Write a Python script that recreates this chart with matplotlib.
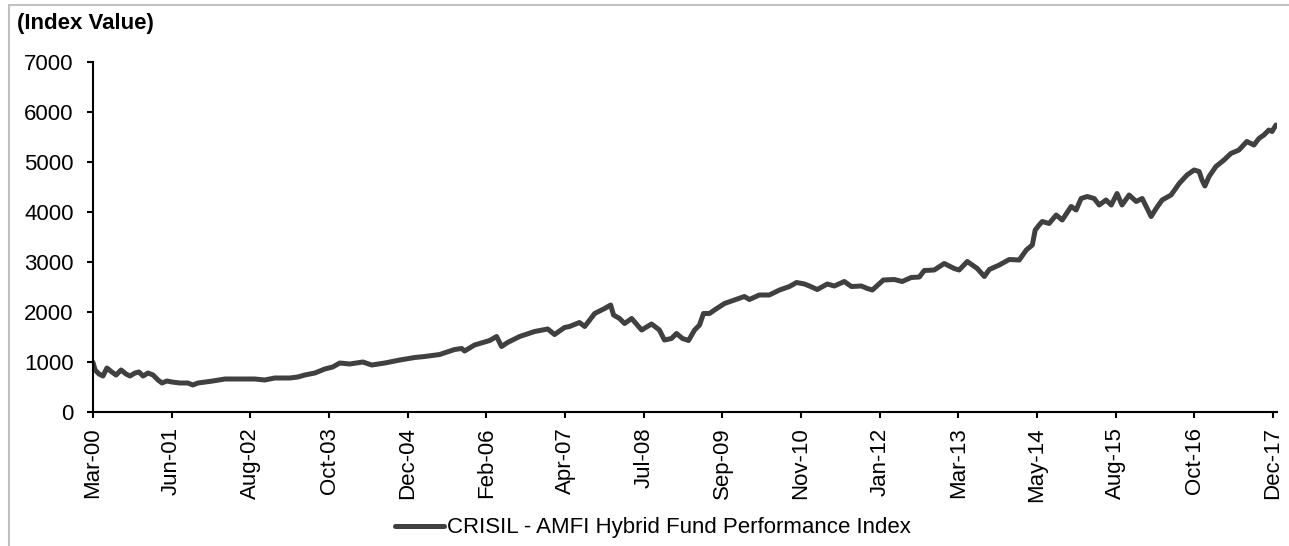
import matplotlib
matplotlib.use("Agg")
import matplotlib.pyplot as plt
from matplotlib.patches import Rectangle

# Observation number (trading-day index) and index value
obs = [0, 8, 23, 38, 53, 72, 88, 107, 126, 141, 160, 175, 191, 210, 229, 248, 263, 282, 301, 331,
       362, 381, 400, 427, 457, 503, 560, 617, 655, 693, 751, 781, 808, 846, 884, 914, 941, 979, 1029, 1063,
       1113, 1170, 1227, 1265, 1322, 1379, 1406, 1417, 1455, 1513, 1539, 1558, 1581, 1627, 1684, 1734, 1760, 1798, 1817, 1855,
       1875, 1913, 1951, 1974, 1985, 2008, 2027, 2054, 2092, 2130, 2160, 2179, 2206, 2225, 2248, 2271, 2294, 2313, 2328, 2351,
       2370, 2408, 2446, 2484, 2503, 2541, 2579, 2618, 2656, 2683, 2713, 2732, 2762, 2800, 2827, 2865, 2892, 2930, 2953, 2972,
       3014, 3056, 3086, 3120, 3151, 3170, 3208, 3246, 3284, 3303, 3334, 3372, 3399, 3418, 3456, 3494, 3532, 3559, 3582, 3593,
       3608, 3620, 3646, 3673, 3696, 3730, 3749, 3768, 3791, 3818, 3837, 3863, 3883, 3905, 3924, 3951, 3978, 4001, 4020, 4035,
       4054, 4077, 4111, 4142, 4172, 4199, 4218, 4229, 4240, 4256, 4282, 4313, 4339, 4370, 4400, 4427, 4446, 4465, 4484, 4496,
       4511]
index_value = [990, 840, 760, 720, 880, 800, 740, 840, 760, 720, 780, 800, 720, 780, 740, 640, 580, 620, 600, 580,
               580, 540, 580, 600, 620, 660, 660, 660, 640, 680, 680, 700, 740, 780, 860, 900, 980, 960, 1000, 940,
               980, 1040, 1090, 1110, 1150, 1250, 1270, 1220, 1340, 1430, 1510, 1310, 1390, 1510, 1610, 1660, 1550, 1690, 1710, 1790,
               1710, 1970, 2070, 2140, 1940, 1870, 1770, 1870, 1640, 1760, 1640, 1440, 1470, 1570, 1470, 1430, 1640, 1740, 1970, 1970,
               2040, 2170, 2240, 2310, 2250, 2340, 2340, 2440, 2510, 2590, 2560, 2520, 2450, 2560, 2520, 2610, 2510, 2520, 2470, 2440,
               2640, 2650, 2610, 2690, 2700, 2830, 2840, 2970, 2870, 2840, 3010, 2870, 2710, 2850, 2940, 3050, 3040, 3240, 3340, 3640,
               3740, 3810, 3770, 3940, 3840, 4110, 4040, 4270, 4310, 4270, 4140, 4240, 4140, 4370, 4140, 4340, 4210, 4270, 4070, 3910,
               4070, 4240, 4340, 4570, 4740, 4840, 4810, 4640, 4520, 4710, 4910, 5040, 5170, 5240, 5410, 5340, 5470, 5540, 5640, 5610,
               5740]

tick_obs = [0, 300, 600, 900, 1200, 1500, 1800, 2100, 2400, 2700, 3000, 3300, 3600, 3900, 4200, 4500]
tick_labels = ["Mar-00", "Jun-01", "Aug-02", "Oct-03", "Dec-04", "Feb-06", "Apr-07", "Jul-08",
               "Sep-09", "Nov-10", "Jan-12", "Mar-13", "May-14", "Aug-15", "Oct-16", "Dec-17"]
y_ticks = [0, 1000, 2000, 3000, 4000, 5000, 6000, 7000]
series_name = "CRISIL - AMFI Hybrid Fund Performance Index"

plt.rcParams["font.family"] = ["Liberation Sans", "DejaVu Sans"]
FS = 16

fig = plt.figure(figsize=(12.89, 5.46), dpi=100)
ax = fig.add_axes([93/1289, 1-412/546, (1277-93)/1289, (412-62)/546])

line, = ax.plot(obs, index_value, color="#404040", lw=3.6, solid_joinstyle="round",
                solid_capstyle="round", label=series_name)

ax.set_xlim(0, 4515)
ax.set_ylim(0, 7000)
ax.set_yticks(y_ticks)
ax.set_yticklabels([str(v) for v in y_ticks], fontsize=FS)
ax.set_xticks(tick_obs)
ax.set_xticklabels(tick_labels, rotation=90, fontsize=FS)

for s in ["top", "right"]:
    ax.spines[s].set_visible(False)
for s in ["left", "bottom"]:
    ax.spines[s].set_linewidth(1.5)
    ax.spines[s].set_color("black")
ax.tick_params(axis="y", direction="out", length=4, width=1.5, pad=10)
ax.tick_params(axis="x", direction="out", length=4, width=1.5, pad=7)

fig.text(17/1289, 1-24/546, "(Index Value)", fontsize=FS, fontweight="bold",
         ha="left", va="center")

fig.legend(handles=[line], loc="center", bbox_to_anchor=(653/1289, 1-528/546),
           frameon=False, fontsize=FS, handlelength=2.2, handletextpad=0.15)

fig.patches.append(Rectangle((9/1289, -0.1), 1.2, 1-5/546+0.1, transform=fig.transFigure,
                             fill=False, edgecolor="#c0c0c0", lw=1.5))

fig.savefig("out.png", dpi=100)
